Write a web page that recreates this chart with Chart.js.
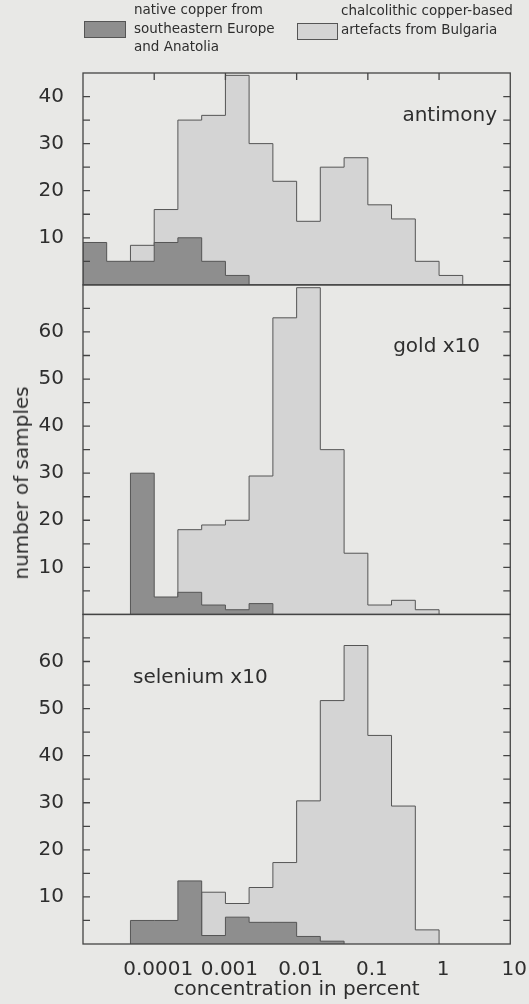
<!DOCTYPE html>
<html lang="en">
<head>
<meta charset="UTF-8">
<title>Histogramas de concentração</title>
<script src="https://cdn.jsdelivr.net/npm/chart.js"></script>
<style>
  body { margin: 0; background: #e8e8e6; }
  #box { position: relative; width: 529px; height: 1004px; }
  #grafico { position: absolute; left: 0; top: 0; }
  .swatch { position: absolute; border: 1px solid #555; box-sizing: border-box; }
  .legtext { position: absolute; font-family: 'DejaVu Sans', sans-serif; font-size: 13.5px; line-height: 18.5px; color: #2e2e2e; white-space: nowrap; }
  #ylabel { position: absolute; font-family: 'DejaVu Sans', sans-serif; font-size: 20px; color: #2e2e2e; white-space: nowrap;
            left: 21px; top: 483px; transform: translate(-50%, -50%) rotate(-90deg); }
</style>
</head>
<body>
<div id="box">
  <canvas id="grafico" width="529" height="1004"></canvas>

  <!-- legenda -->
  <div class="swatch" style="left:84px;top:21px;width:42px;height:17px;background:#8e8e8e"></div>
  <div class="legtext" style="left:134px;top:0px">native copper from<br>southeastern Europe<br>and Anatolia</div>
  <div class="swatch" style="left:297px;top:23px;width:41px;height:17px;background:#d4d4d4"></div>
  <div class="legtext" style="left:341px;top:1px">chalcolithic copper-based<br>artefacts from Bulgaria</div>

  <div id="ylabel">number of samples</div>
</div>

<script>
// bordas das classes (1/3 de década)
const binEdges = [0.00001, 0.0000215, 0.0000464, 0.0001, 0.000215, 0.000464, 0.001, 0.00215, 0.00464,
                  0.01, 0.0215, 0.0464, 0.1, 0.215, 0.464, 1, 2.15, 4.64, 10];

const antimonyNative   = [9, 5, 5, 9, 10, 5, 2, 0, 0, 0, 0, 0, 0, 0, 0, 0, 0, 0];
const antimonyBulgaria = [0, 0, 8.4, 16, 35, 36, 44.5, 30, 22, 13.5, 25, 27, 17, 14, 5, 2, 0, 0];

const goldNative   = [0, 0, 30, 3.7, 4.7, 2, 1, 2.3, 0, 0, 0, 0, 0, 0, 0, 0, 0, 0];
const goldBulgaria = [0, 0, 0, 0, 18, 19, 20, 29.4, 63, 69.4, 35, 13, 2, 3, 1, 0, 0, 0];

const seleniumNative   = [0, 0, 5, 5, 13.4, 1.8, 5.7, 4.6, 4.6, 1.6, 0.6, 0, 0, 0, 0, 0, 0, 0];
const seleniumBulgaria = [0, 0, 0, 0, 0, 11, 8.6, 12, 17.3, 30.4, 51.7, 63.4, 44.3, 29.3, 3, 0, 0, 0];

const xTickValues = [0.0001, 0.001, 0.01, 0.1, 1, 10];
const xTickLabels = ['0.0001', '0.001', '0.01', '0.1', '1', '10'];

const panelIds = ['yAnt', 'yAu', 'ySe'];

// transforma contagens em pontos de histograma em degraus
function degraus(contagens) {
    let primeiro = contagens.findIndex(v => v > 0);
    let ultimo = contagens.length - 1;
    while (ultimo > 0 && !(contagens[ultimo] > 0)) ultimo--;
    let pts = [{ x: binEdges[primeiro], y: 0 }];
    for (let i = primeiro; i <= ultimo; i++) {
        pts.push({ x: binEdges[i], y: contagens[i] });
    }
    pts.push({ x: binEdges[ultimo + 1], y: 0 });
    return pts;
}

function serie(contagens, eixo, escuro) {
    return {
        data: degraus(contagens),
        yAxisID: eixo,
        stepped: 'before',
        fill: 'origin',
        backgroundColor: escuro ? '#8e8e8e' : '#d4d4d4',
        borderColor: '#555',
        borderWidth: 1,
        pointRadius: 0,
        order: escuro ? 0 : 1
    };
}

function eixoY(max, peso) {
    return {
        type: 'linear',
        position: 'left',
        stack: 'paineis',
        stackWeight: peso,
        min: 0,
        max: max,
        grid: { display: false },
        border: { display: false },
        ticks: {
            stepSize: 5,
            autoSkip: false,
            padding: 11,
            color: '#2e2e2e',
            font: { size: 20 },
            callback: v => (v % 10 === 0 && v > 0 && v < max) ? v : ''
        },
        afterFit(s) { s.width = 83; }
    };
}

// moldura e marcas para dentro
const moldura = {
    id: 'moldura',
    afterDatasetsDraw(chart) {
        const { ctx, chartArea } = chart;
        const xs = chart.scales.x;
        ctx.save();
        ctx.strokeStyle = '#444';
        ctx.lineWidth = 1.3;
        panelIds.forEach(id => {
            const s = chart.scales[id];
            ctx.strokeRect(chartArea.left, s.top, chartArea.right - chartArea.left, s.bottom - s.top);
            ctx.beginPath();
            s.ticks.forEach(t => {
                const y = s.getPixelForValue(t.value);
                if (t.value <= 0 || t.value >= s.max) return;
                ctx.moveTo(chartArea.left, y); ctx.lineTo(chartArea.left + 7, y);
                ctx.moveTo(chartArea.right, y); ctx.lineTo(chartArea.right - 7, y);
            });
            ctx.stroke();
        });
        ctx.beginPath();
        xTickValues.forEach(v => {
            const x = xs.getPixelForValue(v);
            if (x >= chartArea.right - 1) return;
            ctx.moveTo(x, chartArea.top); ctx.lineTo(x, chartArea.top + 7);
        });
        ctx.stroke();
        ctx.restore();
    }
};

// rótulos dentro dos painéis
const rotulos = {
    id: 'rotulos',
    afterDraw(chart) {
        const ctx = chart.ctx;
        ctx.save();
        ctx.fillStyle = '#2e2e2e';
        ctx.font = '20px "DejaVu Sans"';
        ctx.textBaseline = 'alphabetic';
        ctx.textAlign = 'right';
        ctx.fillText('antimony', 497, 121);
        ctx.fillText('gold x10', 480, 352);
        ctx.textAlign = 'left';
        ctx.fillText('selenium x10', 133, 683);
        ctx.restore();
    }
};

Chart.defaults.font.family = "'DejaVu Sans', sans-serif";

new Chart(document.getElementById('grafico'), {
    type: 'line',
    data: {
        datasets: [
            serie(antimonyNative, 'yAnt', true),
            serie(antimonyBulgaria, 'yAnt', false),
            serie(goldNative, 'yAu', true),
            serie(goldBulgaria, 'yAu', false),
            serie(seleniumNative, 'ySe', true),
            serie(seleniumBulgaria, 'ySe', false)
        ]
    },
    options: {
        responsive: false,
        devicePixelRatio: 1,
        animation: false,
        layout: { padding: { top: 73, right: 18, left: 0, bottom: 0 } },
        plugins: { legend: { display: false }, tooltip: { enabled: false } },
        scales: {
            x: {
                type: 'logarithmic',
                min: 0.00001,
                max: 10,
                grid: { display: false },
                border: { display: false },
                afterBuildTicks(s) { s.ticks = xTickValues.map(v => ({ value: v })); },
                ticks: {
                    autoSkip: false,
                    maxRotation: 0,
                    padding: 6,
                    labelOffset: 4,
                    color: '#2e2e2e',
                    font: { size: 20 },
                    callback: (v, i) => xTickLabels[i]
                },
                title: {
                    display: true,
                    text: 'concentration in percent',
                    color: '#2e2e2e',
                    font: { size: 20 },
                    padding: { top: 0, bottom: 2 }
                },
                afterFit(s) { s.height = 60; }
            },
            ySe: eixoY(70, 70),
            yAu: eixoY(70, 70),
            yAnt: eixoY(45, 45)
        }
    },
    plugins: [moldura, rotulos]
});
</script>
</body>
</html>
